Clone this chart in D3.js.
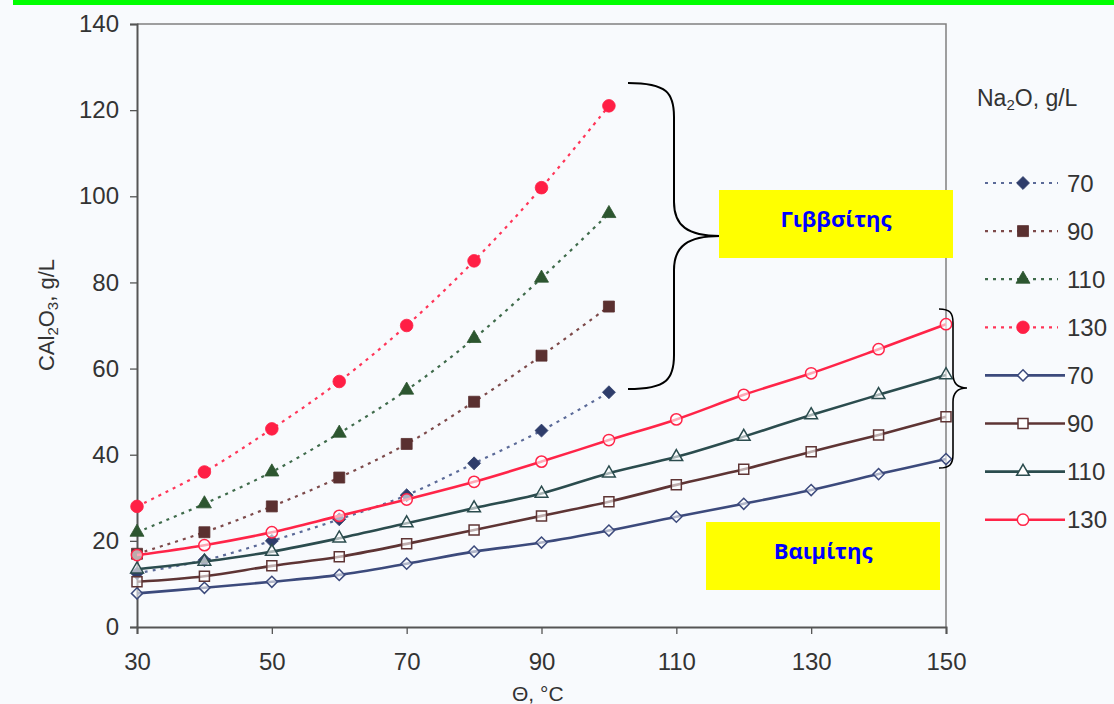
<!DOCTYPE html>
<html>
<head>
<meta charset="utf-8">
<script src="https://cdn.jsdelivr.net/npm/d3@7"></script>
<style>
  html, body { margin: 0; padding: 0; background: #fff; }
  svg { display: block; }
  .tick text { font-family: "Liberation Sans", Arial, sans-serif; fill: #333; }
</style>
</head>
<body>
<div id="chart"></div>
<script>
// DATA
const tempsGib = [30, 40, 50, 60, 70, 80, 90, 100];
const tempsBoe = [30, 40, 50, 60, 70, 80, 90, 100, 110, 120, 130, 140, 150];

// gibbsite, dotted, filled markers
const gib70 = [12.5, 15.5, 20, 25, 30.6, 38, 45.6, 54.5];
const gib90 = [17, 22, 28, 34.7, 42.5, 52.3, 63, 74.4];
const gib110 = [22, 28.6, 36, 45, 55, 67, 81, 96];
const gib130 = [28, 36, 46, 57, 70, 85, 102, 121];

// boehmite, solid, open markers
const boe70 = [7.8, 9.1, 10.5, 12.1, 14.7, 17.5, 19.6, 22.4, 25.6, 28.6, 31.8, 35.5, 39];
const boe90 = [10.5, 11.8, 14.2, 16.3, 19.3, 22.5, 25.8, 29.1, 33, 36.6, 40.7, 44.6, 48.8];
const boe110 = [13.4, 15.2, 17.5, 20.6, 24.1, 27.6, 31, 35.7, 39.5, 44.2, 49.2, 53.9, 58.5];
const boe130 = [16.7, 19, 22, 25.8, 29.6, 33.7, 38.4, 43.4, 48.2, 53.9, 58.9, 64.5, 70.3];

const xTicks = [30, 50, 70, 90, 110, 130, 150];
const yTicks = [0, 20, 40, 60, 80, 100, 120, 140];
const legendLabels = ["70", "90", "110", "130"];

const width = 1114, height = 704;

const svg = d3.select("#chart").append("svg")
  .attr("width", width)
  .attr("height", height);

// page background (scanned look)
svg.append("rect").attr("width", width).attr("height", height).attr("fill", "#f8fafd");
svg.append("rect").attr("x", 13).attr("y", 0).attr("width", width - 13).attr("height", 5).attr("fill", "#00ff00");

// SCALES
const x = d3.scaleLinear().domain([30, 150]).range([137, 946]);
const y = d3.scaleLinear().domain([0, 140]).range([627, 24]);

// plot frame (top + right)
svg.append("path")
  .attr("d", `M${x(30)},${y(140)}H${x(150)}V${y(0)}`)
  .attr("fill", "none")
  .attr("stroke", "#808080")
  .attr("stroke-width", 1.5);

// AXES
svg.append("g")
  .attr("transform", `translate(0,${y(0)})`)
  .call(d3.axisBottom(x).tickValues(xTicks).tickSize(7).tickPadding(19))
  .call(g => g.select(".domain").attr("stroke", "#555").attr("stroke-width", 2))
  .call(g => g.selectAll(".tick line").attr("stroke", "#555").attr("stroke-width", 1.3))
  .call(g => g.selectAll(".tick text").attr("font-size", 24));

svg.append("g")
  .attr("transform", `translate(${x(30)},0)`)
  .call(d3.axisLeft(y).tickValues(yTicks).tickSize(7).tickPadding(11))
  .call(g => g.select(".domain").attr("stroke", "#555").attr("stroke-width", 2))
  .call(g => g.selectAll(".tick line").attr("stroke", "#555").attr("stroke-width", 1.3))
  .call(g => g.selectAll(".tick text").attr("font-size", 24));

// axis titles
const yTitle = svg.append("text")
  .attr("transform", "translate(54,315) rotate(-90)")
  .attr("text-anchor", "middle")
  .attr("font-family", "Liberation Sans, Arial, sans-serif")
  .attr("font-size", 22)
  .attr("fill", "#333");
yTitle.append("tspan").text("CAl");
yTitle.append("tspan").attr("font-size", 15).attr("dy", 4).text("2");
yTitle.append("tspan").attr("dy", -4).text("O");
yTitle.append("tspan").attr("font-size", 15).attr("dy", 4).text("3");
yTitle.append("tspan").attr("dy", -4).text(", g/L");

svg.append("text")
  .attr("x", 512).attr("y", 701)
  .attr("font-family", "Liberation Sans, Arial, sans-serif")
  .attr("font-size", 21)
  .attr("fill", "#333")
  .text("Θ, °C");

// rhombus marker (square turned 45 degrees)
const symbolRhombus = {
  draw(ctx, size) {
    const r = Math.sqrt(size / 2);
    ctx.moveTo(0, -r);
    ctx.lineTo(r, 0);
    ctx.lineTo(0, r);
    ctx.lineTo(-r, 0);
    ctx.closePath();
  }
};

// SERIES
const series = [
  { temps: tempsGib, vals: gib70, line: "#5b6a98", mark: "#2f3d6b", sym: symbolRhombus, size: 84, dotted: true },
  { temps: tempsGib, vals: gib90, line: "#7d4a4a", mark: "#5a3030", sym: d3.symbolSquare, size: 121, dotted: true },
  { temps: tempsGib, vals: gib110, line: "#3f6b4b", mark: "#2d5630", sym: d3.symbolTriangle, size: 85, dotted: true },
  { temps: tempsGib, vals: gib130, line: "#ff3558", mark: "#ff1f45", sym: d3.symbolCircle, size: 125, dotted: true },
  { temps: tempsBoe, vals: boe70, line: "#3c4a7c", mark: "#3c4a7c", sym: symbolRhombus, size: 62, dotted: false },
  { temps: tempsBoe, vals: boe90, line: "#5e3434", mark: "#5e3434", sym: d3.symbolSquare, size: 100, dotted: false },
  { temps: tempsBoe, vals: boe110, line: "#2b4c4e", mark: "#2b4c4e", sym: d3.symbolTriangle, size: 70, dotted: false },
  { temps: tempsBoe, vals: boe130, line: "#ff2448", mark: "#ff2448", sym: d3.symbolCircle, size: 100, dotted: false }
];

const line = d3.line()
  .x(d => x(d[0]))
  .y(d => y(d[1]))
  .curve(d3.curveCatmullRom.alpha(0.5));

series.forEach(s => {
  const pts = s.temps.map((t, i) => [t, s.vals[i]]);
  svg.append("path")
    .datum(pts)
    .attr("d", line)
    .attr("fill", "none")
    .attr("stroke", s.line)
    .attr("stroke-width", s.dotted ? 2.2 : 2.6)
    .attr("stroke-dasharray", s.dotted ? "3,5" : null);

  svg.selectAll(null)
    .data(pts)
    .join("path")
    .attr("transform", d => `translate(${x(d[0])},${y(d[1])})`)
    .attr("d", d3.symbol().type(s.sym).size(s.size))
    .attr("fill", s.dotted ? s.mark : "#fff")
    .attr("fill-opacity", s.dotted ? 1 : 0.6)
    .attr("stroke", s.mark)
    .attr("stroke-width", s.dotted ? 0.8 : 1.5);
});

// LEGEND
const legend = svg.append("g").attr("font-family", "Liberation Sans, Arial, sans-serif").attr("fill", "#333");
const lt = legend.append("text").attr("x", 977).attr("y", 106).attr("font-size", 23);
lt.append("tspan").text("Na");
lt.append("tspan").attr("font-size", 15).attr("dy", 4).text("2");
lt.append("tspan").attr("dy", -4).text("O, g/L");

series.forEach((s, i) => {
  const cy = 183 + i * 48.1;
  legend.append("line")
    .attr("x1", 985).attr("x2", s.dotted ? 1058 : 1065)
    .attr("y1", cy).attr("y2", cy)
    .attr("stroke", s.line)
    .attr("stroke-width", s.dotted ? 2.2 : 2.6)
    .attr("stroke-dasharray", s.dotted ? "3,5" : null);
  legend.append("path")
    .attr("transform", `translate(1023,${cy})`)
    .attr("d", d3.symbol().type(s.sym).size(s.size))
    .attr("fill", s.dotted ? s.mark : "#fff")
    .attr("stroke", s.mark)
    .attr("stroke-width", s.dotted ? 0.8 : 1.5);
  legend.append("text")
    .attr("x", 1067).attr("y", cy + 8.5)
    .attr("font-size", 24)
    .text(legendLabels[i % 4]);
});

// BRACES (annotation)
function brace(xEnd, yTop, yBot, xMid, xTip, yTip, r) {
  return `M${xEnd},${yTop}` +
    `C${xMid - r * 0.2},${yTop} ${xMid},${yTop + r * 0.3} ${xMid},${yTop + r}` +
    `L${xMid},${yTip - r}` +
    `C${xMid},${yTip - r * 0.3} ${xMid + r * 0.4},${yTip} ${xTip},${yTip}` +
    `C${xMid + r * 0.4},${yTip} ${xMid},${yTip + r * 0.3} ${xMid},${yTip + r}` +
    `L${xMid},${yBot - r}` +
    `C${xMid},${yBot - r * 0.3} ${xMid - r * 0.2},${yBot} ${xEnd},${yBot}`;
}
svg.append("path")
  .attr("d", brace(628, 83, 389, 674, 720, 236, 34))
  .attr("fill", "none").attr("stroke", "#000").attr("stroke-width", 2);
svg.append("path")
  .attr("d", brace(939, 309, 468, 953, 967, 388, 14))
  .attr("fill", "none").attr("stroke", "#000").attr("stroke-width", 1.6);

// LABEL BOXES
const boxes = [
  { x: 719, y: 190, w: 234, h: 68, text: "Γιββσίτης" },
  { x: 706, y: 522, w: 234, h: 68, text: "Βαιμίτης" }
];
boxes.forEach(b => {
  svg.append("rect")
    .attr("x", b.x).attr("y", b.y).attr("width", b.w).attr("height", b.h)
    .attr("fill", "#ffff00");
  svg.append("text")
    .attr("x", b.x + b.w / 2).attr("y", b.y + b.h / 2 - 3)
    .attr("text-anchor", "middle")
    .attr("dominant-baseline", "middle")
    .attr("font-family", "Open Sans, Noto Sans, sans-serif")
    .attr("font-weight", "bold")
    .attr("font-size", 22)
    .attr("fill", "#0000ff")
    .text(b.text);
});
</script>
</body>
</html>
